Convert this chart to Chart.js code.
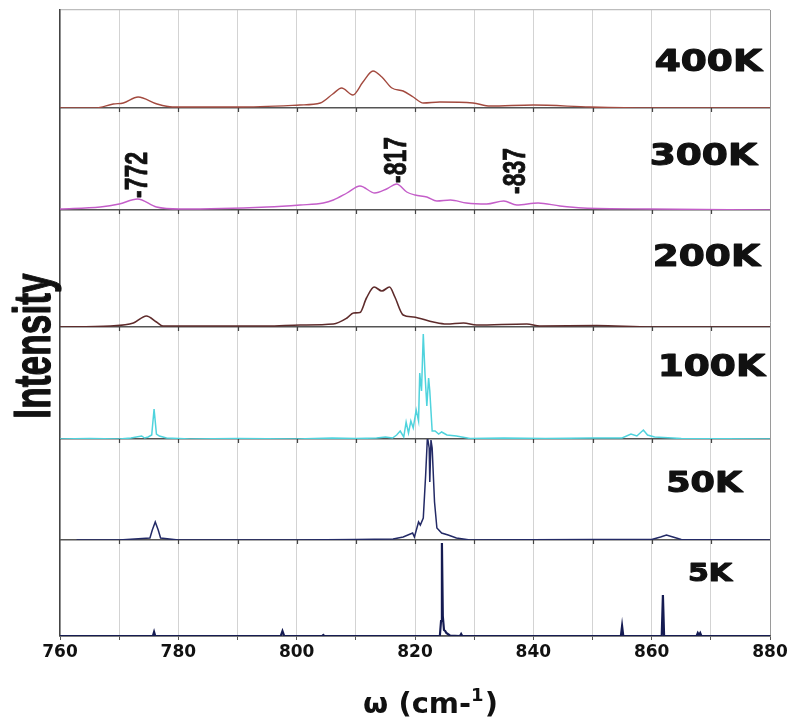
<!DOCTYPE html>
<html>
<head>
<meta charset="utf-8">
<script src="https://cdn.jsdelivr.net/npm/chart.js@4.4.1/dist/chart.umd.min.js"></script>
<style>
  html, body { margin: 0; padding: 0; background: #fff; }
</style>
</head>
<body>
<canvas id="spectra" width="794" height="722"></canvas>
<script>
// wavenumbers (cm-1) and intensities (arb. units)
const wn400 = [760, 766, 769, 770.7, 773.2, 776.4, 779, 790, 800.5, 804, 806.1, 807.6, 809.5, 811.2, 812.9, 814.4, 816.1, 818, 819.7, 821.4, 824.2, 829.8, 832.7, 840, 849.6, 859.7, 880]
const int400 = [0, 0, 4, 5, 11, 4, 1, 1, 3, 5, 14, 20, 13, 26, 37, 31, 20, 17, 11, 5, 6, 5, 2, 3, 1, 0, 0]

const wn300 = [760, 766.8, 770, 773.1, 776.3, 780.3, 795, 800.6, 804.5, 806.2, 808.5, 810.7, 813.2, 815.2, 816.9, 818.6, 820, 822, 823.7, 826, 828.7, 832.1, 835, 837.2, 840.8, 844.5, 848.4, 859.7, 880]
const int300 = [1, 3, 6, 11, 3, 1, 3, 5, 7, 10, 17, 24, 17, 21, 26, 18, 15, 13, 9, 10, 7, 6, 9, 5, 7, 4, 2, 1, 0]

const wn200 = [760, 768.5, 772.4, 774.6, 776.3, 777.4, 795, 800.6, 806.2, 808.5, 809.6, 810.7, 811.8, 813.1, 814.4, 815.7, 816.6, 818, 819.7, 823.1, 825.3, 828.2, 830.4, 838.9, 841.1, 850.7, 860, 880]
const int200 = [0, 1, 4, 11, 5, 1, 1, 2, 3, 9, 14, 14.5, 29, 40, 36, 40, 30, 12, 10, 5, 3, 4, 2, 3, 1, 1.5, 0, 0]

const wn100 = [760, 765, 770, 772, 773.8, 774.3, 774.9, 775.5, 775.9, 776.3, 776.8, 778, 782, 790, 800, 806, 810, 813.5, 815, 816.2, 816.9, 817.5, 818.1, 818.5, 818.9, 819.3, 819.7, 820.2, 820.6, 820.8, 821.1, 821.4, 821.7, 822, 822.3, 822.5, 822.9, 823.4, 824, 824.5, 825.4, 827, 829.3, 835, 842, 850, 855, 856.5, 857.5, 858.6, 859.3, 860.5, 865, 880]
const int100 = [0, 0.5, 0, 1, 3, 1, 2, 4, 30, 5, 3, 1, 0, 0.5, 0, 1, 0.5, 1, 2, 1, 4, 8, 2, 17, 6, 18, 11, 29, 18, 66, 48, 105, 64, 33, 61, 48, 8, 8, 5, 7, 4, 3, 0.5, 1, 0.5, 1, 1, 5, 3, 9, 4, 2, 0.5, 0]

const wn50 = [762.8, 770, 775.2, 775.6, 776.1, 776.6, 777, 780, 800, 810, 816.3, 818, 819.6, 819.9, 820.6, 820.9, 821.4, 821.8, 822.1, 822.4, 822.5, 822.7, 822.9, 823.3, 823.7, 824.5, 825.6, 827, 829.3, 850, 860, 861.5, 862.5, 863.6, 865, 880]
const int50 = [0, 0, 2, 10, 18, 10, 2, 0, 0, 0.5, 1, 3, 7, 3, 18, 15, 22, 65, 103, 92, 58, 100, 92, 38, 12, 7, 5, 2, 0, 0.5, 0.5, 3, 5, 3, 0.5, 0]

const wn5 = [760, 775.7, 775.9, 776.1, 797.3, 797.6, 797.9, 804.3, 804.5, 804.7, 824.2, 824.4, 824.55, 824.7, 824.9, 825.1, 825.3, 825.9, 827.6, 827.8, 828, 854.8, 855, 855.2, 861.7, 861.9, 862.1, 867.6, 867.8, 868, 868.2, 868.4, 868.6, 880]
const int5 = [0, 0, 4, 0, 0, 5, 0, 0, 1, 0, 0, 15, 93, 20, 6, 5, 3, 0.5, 0, 2, 0, 0, 10, 0, 0, 41, 0, 0, 3, 1, 3, 0, 0, 0]

const tempLabels = ['400K', '300K', '200K', '100K', '50K', '5K']
const xTicks = [760, 780, 800, 820, 840, 860, 880]

// peak marks on the 300K trace
const markText = ['-772', '-817', '-837']
const markWn = [773.1, 816.9, 837.1]
const markInt = [11, 26, 15]

// panel looks, top to bottom
const panels = [
    { id: 'y400', wn: wn400, val: int400, h: 98, color: '#a34a3f', width: 1.4, smooth: true, lx: 762, ly: 71, fs: 30 },
    { id: 'y300', wn: wn300, val: int300, h: 102, color: '#c45ec9', width: 1.4, smooth: true, lx: 757, ly: 165, fs: 30 },
    { id: 'y200', wn: wn200, val: int200, h: 117, color: '#5e2b2b', width: 1.6, smooth: true, lx: 760, ly: 266, fs: 30 },
    { id: 'y100', wn: wn100, val: int100, h: 112, color: '#4fd3dd', width: 1.5, smooth: false, lx: 765, ly: 376, fs: 30 },
    { id: 'y50', wn: wn50, val: int50, h: 101, color: '#232a66', width: 1.5, smooth: false, lx: 742, ly: 492, fs: 28 },
    { id: 'y5', wn: wn5, val: int5, h: 96, color: '#151b52', width: 2.2, smooth: false, lx: 732, ly: 581, fs: 24 }
]

// fill plus a thin stroke, to get the heavy look of the original lettering
function heavy(ctx, text, x, y, w) {
    ctx.lineWidth = w
    ctx.lineJoin = 'round'
    ctx.strokeText(text, x, y)
    ctx.fillText(text, x, y)
}

function stretched(ctx, text, x, y, font, sx, align) {
    ctx.save()
    ctx.translate(x, y)
    ctx.scale(sx, 1)
    ctx.font = font
    ctx.textAlign = align
    ctx.textBaseline = 'alphabetic'
    heavy(ctx, text, 0, 0, 1.1)
    ctx.restore()
}

const decor = {
    id: 'decor',
    beforeDatasetsDraw(chart) {
        const ctx = chart.ctx
        const x = chart.scales.x
        ctx.save()
        ctx.strokeStyle = '#444'
        ctx.lineWidth = 1.2
        for (let i = 0; i < panels.length - 1; i++) {
            const y = chart.scales[panels[i].id].getPixelForValue(0)
            for (let v = 770; v <= 870; v += 10) {
                const px = Math.round(x.getPixelForValue(v)) + 0.5
                ctx.beginPath()
                ctx.moveTo(px, y)
                ctx.lineTo(px, y + 4)
                ctx.stroke()
            }
        }
        ctx.restore()
    },
    afterDraw(chart) {
        const ctx = chart.ctx
        const x = chart.scales.x
        ctx.save()
        ctx.fillStyle = '#111'
        ctx.strokeStyle = '#111'

        // temperature labels
        panels.forEach((p, i) => {
            stretched(ctx, tempLabels[i], p.lx, p.ly, 'bold ' + p.fs + 'px "DejaVu Sans"', 1.25, 'right')
        })

        // peak marks, written upward from the peak
        const y300 = chart.scales.y300
        markText.forEach((t, i) => {
            const px = x.getPixelForValue(markWn[i])
            const py = y300.getPixelForValue(markInt[i])
            ctx.save()
            ctx.translate(px + 9, py - 1)
            ctx.rotate(-Math.PI / 2)
            ctx.scale(0.72, 1)
            ctx.font = 'bold 32px "Liberation Sans"'
            ctx.textAlign = 'left'
            heavy(ctx, t, 0, 0, 0.8)
            ctx.restore()
        })

        // y title
        ctx.save()
        ctx.translate(50, 346)
        ctx.rotate(-Math.PI / 2)
        ctx.scale(0.68, 1)
        ctx.font = 'bold 52px "Liberation Sans"'
        ctx.textAlign = 'center'
        heavy(ctx, 'Intensity', 0, 0, 1.2)
        ctx.restore()

        // x title with superscript
        const big = 'bold 29px "DejaVu Sans"'
        const sup = 'bold 18px "DejaVu Sans"'
        ctx.font = big
        const a = 'ω (cm-', c = ')'
        const wa = ctx.measureText(a).width
        const wc = ctx.measureText(c).width
        ctx.font = sup
        const wb = ctx.measureText('1').width
        let sx = 430 - (wa + wb + wc) / 2
        const base = 713
        ctx.textAlign = 'left'
        ctx.font = big
        ctx.fillText(a, sx, base)
        ctx.font = sup
        ctx.fillText('1', sx + wa, base - 12)
        ctx.font = big
        ctx.fillText(c, sx + wa + wb + 1, base)
        ctx.restore()
    }
}

const scales = {
    x: {
        type: 'linear',
        min: 760,
        max: 880,
        ticks: {
            stepSize: 10,
            autoSkip: false,
            maxRotation: 0,
            padding: 2,
            color: '#111',
            font: { family: 'DejaVu Sans', weight: 'bold', size: 17 },
            callback: v => (xTicks.includes(v) ? v : '')
        },
        grid: {
            color: c => (c.tick && c.tick.value === 760 ? 'rgba(0,0,0,0)' : c.tick && c.tick.value === 880 ? '#9a9a9a' : '#d3d3d3'),
            tickLength: 4,
            tickColor: '#555'
        },
        border: { color: '#555', width: 1.5 },
        afterFit: s => { s.height = 86 }
    }
}

// stacked axes are laid out bottom first, so add them in reverse
panels.slice().reverse().forEach(p => {
    scales[p.id] = {
        type: 'linear',
        position: 'left',
        stack: 'panels',
        stackWeight: p.h,
        min: 0,
        max: p.h,
        ticks: { display: false, stepSize: p.h },
        grid: {
            drawTicks: false,
            color: c => (c.tick.value === 0 ? '#555' : p.id === 'y400' ? '#bdbdbd' : 'rgba(0,0,0,0)'),
            lineWidth: c => (c.tick.value === 0 ? 1.4 : 1.2)
        },
        border: { color: '#444', width: 1.6 },
        afterFit: s => { s.width = 0 }
    }
})

const datasets = panels.map(p => ({
    data: p.wn.map((w, i) => ({ x: w, y: p.val[i] })),
    yAxisID: p.id,
    borderColor: p.color,
    borderWidth: p.width,
    pointRadius: 0,
    fill: false,
    tension: p.smooth ? 0.4 : 0,
    cubicInterpolationMode: p.smooth ? 'monotone' : 'default'
}))

new Chart(document.getElementById('spectra'), {
    type: 'line',
    data: { datasets: datasets },
    options: {
        responsive: false,
        animation: false,
        layout: { padding: { left: 60, right: 24, top: 10, bottom: 0 } },
        scales: scales,
        plugins: {
            legend: { display: false },
            tooltip: { enabled: false }
        }
    },
    plugins: [decor]
})
</script>
</body>
</html>
